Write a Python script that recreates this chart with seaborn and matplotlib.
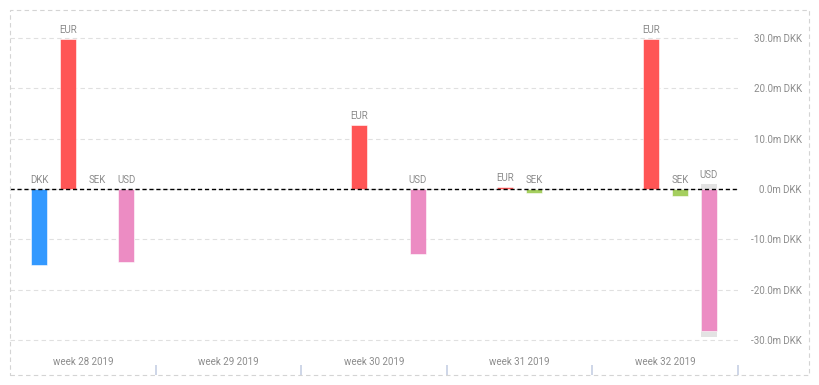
import pandas as pd
import matplotlib.pyplot as plt
import seaborn as sns
from matplotlib.patches import Rectangle

weeks = ['week 28 2019', 'week 29 2019', 'week 30 2019', 'week 31 2019', 'week 32 2019']
currencies = ['DKK', 'EUR', 'SEK', 'USD']
cores = ['#3399ff', '#ff5555', '#a5cf5f', '#ec8cc3']

row_week = ['week 28 2019'] * 4 + ['week 30 2019'] * 2 + ['week 31 2019'] * 2 + ['week 32 2019'] * 3
row_cur = ['DKK', 'EUR', 'SEK', 'USD', 'EUR', 'USD', 'EUR', 'SEK', 'EUR', 'SEK', 'USD']
row_val = [-15.1, 29.9, 0.0, -14.5, 12.8, -12.9, 0.45, -0.7, 29.9, -1.3, -28.2]

# faixa cinza atras do USD na semana 32 (uma linha por moeda para manter o dodge)
ghost_week = ['week 32 2019'] * 4
ghost_cur = ['DKK', 'EUR', 'SEK', 'USD']
ghost_hi = [0.0, 0.0, 0.0, 1.0]
ghost_lo = [0.0, 0.0, 0.0, -29.5]

df = pd.DataFrame({'Semana': row_week, 'Moeda': row_cur, 'Valor': row_val})
df_hi = pd.DataFrame({'Semana': ghost_week, 'Moeda': ghost_cur, 'Valor': ghost_hi})
df_lo = pd.DataFrame({'Semana': ghost_week, 'Moeda': ghost_cur, 'Valor': ghost_lo})

sns.set_theme(style="white")
plt.rcParams['font.family'] = ['Roboto', 'DejaVu Sans']

W, H = 819, 385
fig = plt.figure(figsize=(W / 100, H / 100), dpi=100)
ax = fig.add_axes([10 / W, 1 - 343 / H, (738 - 10) / W, (343 - 10) / H])

for d in (df_hi, df_lo):
    sns.barplot(data=d, x='Semana', y='Valor', hue='Moeda', order=weeks,
                hue_order=currencies, palette=['#e3e3e3'] * 4, saturation=1,
                gap=0.45, width=0.8, errorbar=None, legend=False, ax=ax,
                linewidth=0)

sns.barplot(data=df, x='Semana', y='Valor', hue='Moeda', order=weeks,
            hue_order=currencies, palette=cores, saturation=1, gap=0.45,
            width=0.8, errorbar=None, legend=False, ax=ax,
            edgecolor='white', linewidth=0.4)

# rotulos das moedas
for w, c, v in zip(row_week, row_cur, row_val):
    xi = weeks.index(w) + (-0.3 + 0.2 * currencies.index(c))
    topo = max(v, 0)
    for gw, gc, gh in zip(ghost_week, ghost_cur, ghost_hi):
        if gw == w and gc == c:
            topo = max(topo, gh)
    ax.annotate(c, (xi, topo), xytext=(0, 3), textcoords='offset points',
                ha='center', va='bottom', fontsize=7, color='#8c8c8c')

ax.axhline(0, color='black', ls=(0, (3, 2)), lw=1, zorder=5)
ax.set_xlim(-0.5, 4.5)
ax.set_ylim(-30.6, 35.6)

yt = [-30, -20, -10, 0, 10, 20, 30]
ax.set_yticks(yt)
ax.set_yticklabels([f'{v:.1f}m DKK' for v in yt])
ax.yaxis.tick_right()
ax.tick_params(axis='y', length=0, pad=46, labelsize=7, labelcolor='#8c8c8c')
for lbl in ax.get_yticklabels():
    lbl.set_ha('right')
ax.yaxis.grid(True, color='#e0e0e0', ls=(0, (4, 3)), lw=0.8)
ax.set_axisbelow(True)

ax.tick_params(axis='x', length=0, pad=10, labelsize=7, labelcolor='#8c8c8c')
ax.set_xlabel('')
ax.set_ylabel('')
for s in ax.spines.values():
    s.set_visible(False)

# marcas entre semanas
ax.vlines([0.5, 1.5, 2.5, 3.5, 4.5], -(365 - 343) / 333, -(375 - 343) / 333,
          transform=ax.get_xaxis_transform(), color='#c6d0e4', lw=1.2, clip_on=False)

fig.patches.append(Rectangle((10 / W, 10 / H), (809 - 10) / W, (375 - 10) / H,
                             transform=fig.transFigure, fill=False,
                             edgecolor='#d4d4d4', ls=(0, (4, 3)), lw=0.8))

plt.savefig('out.png', dpi=100)
